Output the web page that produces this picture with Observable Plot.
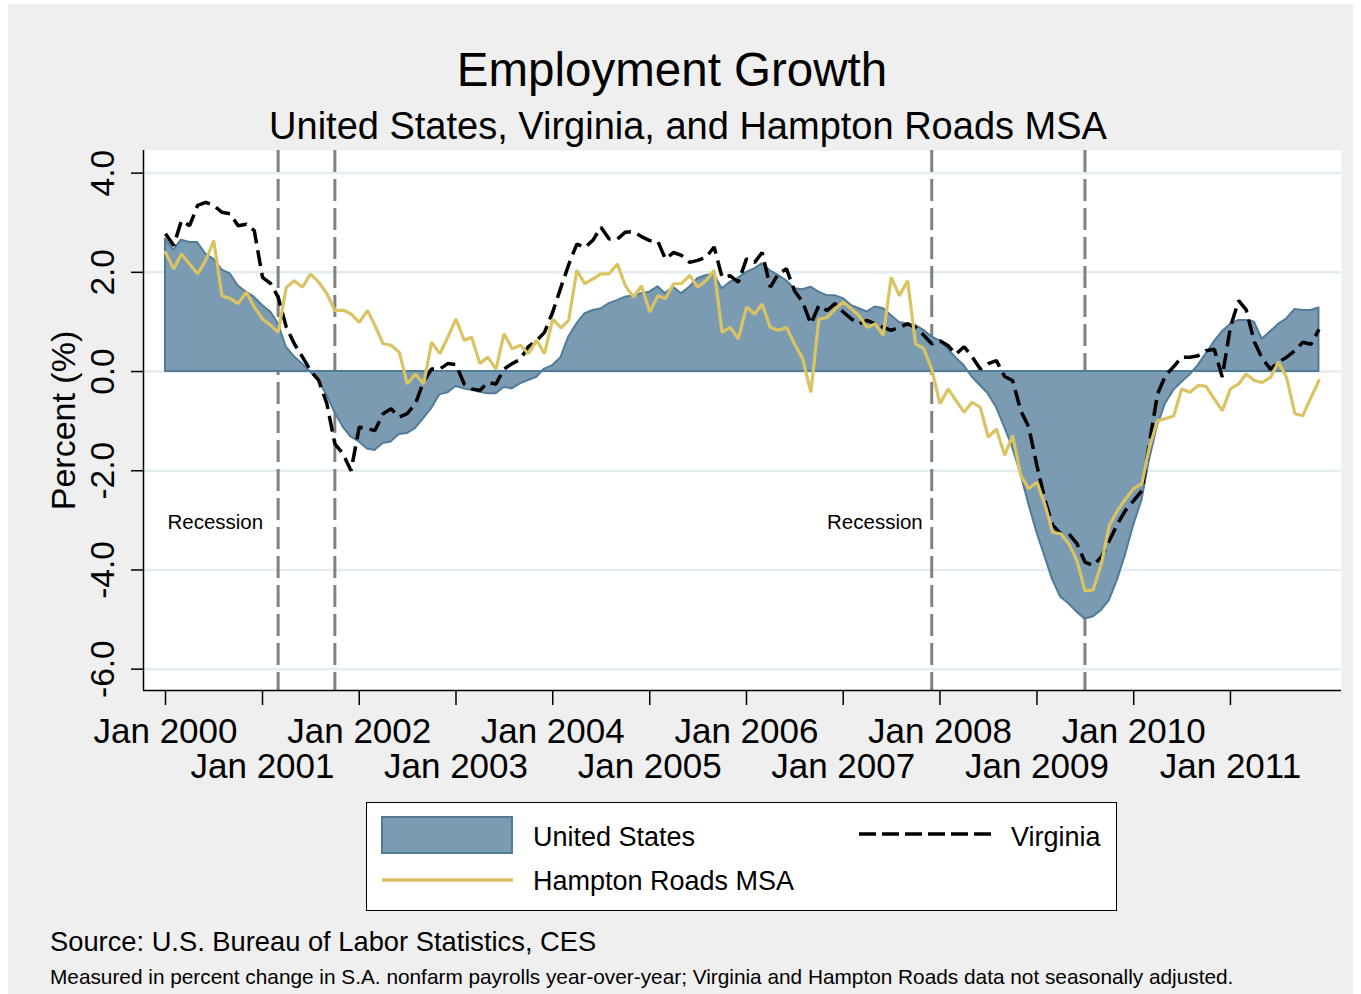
<!DOCTYPE html>
<html><head><meta charset="utf-8">
<script src="https://cdn.jsdelivr.net/npm/d3@7"></script>
<script src="https://cdn.jsdelivr.net/npm/@observablehq/plot@0.6"></script>
<style>
body{margin:0;background:#fff;font-family:"Liberation Sans",Arial,Helvetica,sans-serif;width:1361px;height:994px;overflow:hidden;position:relative;}
#page{position:absolute;left:8px;top:4px;width:1345px;height:990px;background:#efefef;}
.t{position:absolute;white-space:nowrap;color:#000;line-height:1;}
#chart{position:absolute;left:0;top:140px;}
#legend{position:absolute;left:366px;top:802px;width:749px;height:107px;border:1.5px solid #000;background:#fff;}
</style></head><body>
<div id="page"></div>
<div class="t" id="title" style="left:172px;width:1000px;text-align:center;font-size:47.5px;top:46px;">Employment Growth</div>
<div class="t" id="subtitle" style="left:188px;width:1000px;text-align:center;font-size:38px;top:107px;">United States, Virginia, and Hampton Roads MSA</div>
<div id="chart"></div>
<div id="legend"></div>
<div class="t" id="source" style="left:50px;font-size:27.3px;top:928px;">Source: U.S. Bureau of Labor Statistics, CES</div>
<div class="t" id="note" style="left:50px;font-size:20.8px;top:967px;">Measured in percent change in S.A. nonfarm payrolls year-over-year; Virginia and Hampton Roads data not seasonally adjusted.</div>
<script>
// ---- data (monthly, Jan 2000 - Dec 2011) ----
const startMonth = "2000-01";
const endMonth = "2012-01";
const usValues = [
 2.67,2.45,2.65,2.6,2.6,2.37,2.26,2.05,1.97,1.73,1.6,1.5,
 1.33,1.2,0.97,0.49,0.3,0.15,-0.01,-0.18,-0.48,-0.82,-1.12,-1.32,
 -1.42,-1.56,-1.59,-1.45,-1.42,-1.27,-1.25,-1.15,-0.95,-0.75,-0.47,-0.43,
 -0.3,-0.35,-0.38,-0.42,-0.45,-0.45,-0.32,-0.35,-0.25,-0.18,-0.12,0.05,
 0.12,0.28,0.69,0.96,1.16,1.23,1.26,1.37,1.43,1.5,1.53,1.57,
 1.6,1.71,1.57,1.7,1.57,1.7,1.87,1.93,1.96,1.67,1.8,1.88,
 2.0,2.07,2.17,2.03,1.94,1.83,1.67,1.65,1.7,1.6,1.53,1.53,
 1.47,1.33,1.27,1.2,1.3,1.27,1.13,0.99,0.96,0.93,0.83,0.7,
 0.62,0.45,0.28,0.12,-0.11,-0.28,-0.45,-0.72,-1.12,-1.53,-2.06,-2.67,
 -3.25,-3.74,-4.2,-4.55,-4.68,-4.85,-4.99,-4.95,-4.82,-4.62,-4.2,-3.7,
 -3.1,-2.6,-1.8,-1.1,-0.65,-0.38,-0.22,-0.07,0.12,0.35,0.6,0.8,
 0.95,1.03,1.03,1.0,0.65,0.8,0.95,1.06,1.25,1.23,1.23,1.28];
const vaValues = [
 2.78,2.54,3.04,2.94,3.35,3.41,3.35,3.21,3.18,2.94,2.97,2.84,
 1.9,1.77,1.5,0.89,0.56,0.29,0.02,-0.18,-0.65,-1.46,-1.66,-2.0,
 -1.12,-1.15,-1.19,-0.85,-0.75,-0.92,-0.85,-0.65,-0.2,0.05,0.05,0.16,
 0.14,-0.25,-0.35,-0.38,-0.22,-0.25,0.05,0.16,0.25,0.5,0.62,0.79,
 1.2,1.7,2.15,2.57,2.5,2.65,2.91,2.67,2.67,2.81,2.82,2.72,
 2.64,2.62,2.27,2.4,2.34,2.2,2.24,2.3,2.51,1.9,1.93,1.8,
 2.27,2.2,2.4,1.7,1.97,2.07,1.63,1.4,0.96,1.33,1.23,1.37,
 1.2,1.06,0.96,1.03,0.96,0.89,0.83,0.89,0.96,0.89,0.73,0.56,
 0.62,0.52,0.35,0.5,0.3,0.05,0.16,0.22,-0.1,-0.18,-0.79,-1.12,
 -1.9,-2.6,-3.1,-3.27,-3.27,-3.47,-3.84,-3.91,-3.74,-3.41,-3.07,-2.8,
 -2.6,-2.4,-1.45,-0.45,-0.08,0.1,0.29,0.29,0.32,0.42,0.45,-0.11,
 0.9,1.43,1.25,0.6,0.26,0.05,0.19,0.29,0.42,0.59,0.55,0.85];
const hrValues = [
 2.4,2.07,2.37,2.17,1.97,2.24,2.64,1.53,1.47,1.37,1.6,1.3,
 1.06,0.93,0.79,1.7,1.83,1.7,1.97,1.8,1.57,1.23,1.24,1.16,
 0.99,1.23,0.93,0.56,0.53,0.39,-0.25,-0.05,-0.25,0.59,0.36,0.69,
 1.06,0.63,0.69,0.16,0.29,0.05,0.76,0.46,0.53,0.36,0.63,0.36,
 1.06,0.88,1.03,2.04,1.77,1.87,1.97,1.97,2.17,1.73,1.5,1.73,
 1.2,1.53,1.47,1.77,1.77,1.94,1.7,1.83,2.04,0.79,0.89,0.66,
 1.3,1.16,1.36,0.89,0.83,0.89,0.56,0.26,-0.42,1.06,1.09,1.26,
 1.4,1.26,1.13,0.89,0.96,0.73,1.9,1.53,1.83,0.56,0.46,0.05,
 -0.65,-0.35,-0.58,-0.82,-0.62,-0.72,-1.32,-1.16,-1.69,-1.29,-2.1,-2.36,
 -2.23,-2.7,-3.24,-3.27,-3.47,-3.81,-4.42,-4.4,-3.88,-3.1,-2.8,-2.57,
 -2.36,-2.26,-1.53,-0.99,-0.95,-0.89,-0.35,-0.42,-0.28,-0.3,-0.55,-0.79,
 -0.35,-0.25,-0.05,-0.18,-0.22,-0.12,0.19,-0.12,-0.85,-0.89,-0.52,-0.18];
const seriesNames = ["United States", "Virginia", "Hampton Roads MSA"];
const xTickLabels = ["Jan 2000","Jan 2001","Jan 2002","Jan 2003","Jan 2004","Jan 2005","Jan 2006","Jan 2007","Jan 2008","Jan 2009","Jan 2010","Jan 2011"];
const yTicks = [4, 2, 0, -2, -4, -6];
const yTickLabels = ["4.0","2.0","0.0","-2.0","-4.0","-6.0"];
const recessionDates = ["2001-03","2001-10","2007-12","2009-07"];
const recessionLabels = [{date: "2001-03", label: "Recession"}, {date: "2007-12", label: "Recession"}];

// ---- build ----
const parseM = d3.utcParse("%Y-%m");
const parseTick = d3.utcParse("%b %Y");
const months = d3.utcMonth.range(parseM(startMonth), parseM(endMonth));
const data = months.map((date, i) => ({date, us: usValues[i], va: vaValues[i], hr: hrValues[i]}));
const xTickDates = xTickLabels.map(parseTick);
const recDates = recessionDates.map(parseM);
const recLab = recessionLabels.map(d => ({date: parseM(d.date), label: d.label}));

const usFill = "#7a9bb2", usStroke = "#527b98", hrColor = "#dac363";
const font = "'Liberation Sans', Arial, Helvetica, sans-serif";
const xDomain = [new Date(Date.UTC(1999, 9, 10)), new Date(Date.UTC(2012, 1, 24))];
const yDomain = [-6.43, 4.456];

const chart = Plot.plot({
  width: 1361, height: 650,
  marginLeft: 143, marginRight: 20, marginTop: 10, marginBottom: 100,
  style: {background: "transparent", fontFamily: font, overflow: "visible", color: "#000"},
  x: {type: "utc", domain: xDomain},
  y: {domain: yDomain},
  marks: [
    Plot.frame({fill: "white", stroke: null}),
    Plot.ruleY(yTicks, {stroke: "#e3edef", strokeWidth: 2.5}),
    Plot.ruleX(recDates, {stroke: "#818181", strokeWidth: 3, strokeDasharray: "22,7"}),
    Plot.areaY(data, {x: "date", y: "us", fill: usFill, stroke: usStroke, strokeWidth: 2}),
    Plot.lineY(data, {x: "date", y: "va", stroke: "#000", strokeWidth: 3.5, strokeDasharray: "16,7", strokeLinecap: "butt", strokeLinejoin: "miter"}),
    Plot.lineY(data, {x: "date", y: "hr", stroke: hrColor, strokeWidth: 3.2, strokeLinejoin: "miter"}),
    Plot.text(recLab.slice(0, 1), {x: "date", y: -3.05, text: "label", textAnchor: "end", dx: -15, fontSize: 20.5, fill: "#000"}),
    Plot.text(recLab.slice(1), {x: "date", y: -3.05, text: "label", textAnchor: "end", dx: -9, fontSize: 20.5, fill: "#000"}),
    Plot.ruleX([xDomain[0]], {stroke: "#000", strokeWidth: 1.5}),
    Plot.ruleY([yDomain[0]], {stroke: "#000", strokeWidth: 1.5}),
    Plot.axisY({ticks: yTicks, tickSize: 12, tickFormat: () => "", label: null, strokeWidth: 1.5}),
    Plot.axisX({ticks: xTickDates, tickSize: 15, tickFormat: () => "", label: null, strokeWidth: 1.5}),
    Plot.text(yTicks, {y: d => d, text: (d, i) => yTickLabels[i], frameAnchor: "left", textAnchor: "middle", dx: -40, rotate: -90, fontSize: 33.5, fill: "#000"}),
    Plot.text(["Percent (%)"], {frameAnchor: "left", textAnchor: "middle", dx: -79, rotate: -90, fontSize: 34, fill: "#000"}),
    Plot.text(xTickDates.filter((d, i) => i % 2 === 0), {x: d => d, text: d => xTickLabels[xTickDates.indexOf(d)], frameAnchor: "bottom", dy: 52, fontSize: 35, fill: "#000"}),
    Plot.text(xTickDates.filter((d, i) => i % 2 === 1), {x: d => d, text: d => xTickLabels[xTickDates.indexOf(d)], frameAnchor: "bottom", dy: 87, fontSize: 35, fill: "#000"})
  ]
});
document.getElementById("chart").appendChild(chart);

// ---- legend ----
const lg = d3.select("#legend").append("svg").attr("width", 749).attr("height", 107).style("display", "block");
lg.append("rect").attr("x", 15).attr("y", 14).attr("width", 130).attr("height", 36).attr("fill", usFill).attr("stroke", usStroke).attr("stroke-width", 2);
lg.append("text").attr("x", 166).attr("y", 43).attr("font-size", 27).attr("font-family", font).text(seriesNames[0]);
lg.append("line").attr("x1", 492).attr("x2", 624).attr("y1", 31).attr("y2", 31).attr("stroke", "#000").attr("stroke-width", 3.5).attr("stroke-dasharray", "17,6");
lg.append("text").attr("x", 644).attr("y", 43).attr("font-size", 27).attr("font-family", font).text(seriesNames[1]);
lg.append("line").attr("x1", 15).attr("x2", 146).attr("y1", 77).attr("y2", 77).attr("stroke", hrColor).attr("stroke-width", 3.5);
lg.append("text").attr("x", 166).attr("y", 87).attr("font-size", 27).attr("font-family", font).text(seriesNames[2]);
</script>
</body></html>
